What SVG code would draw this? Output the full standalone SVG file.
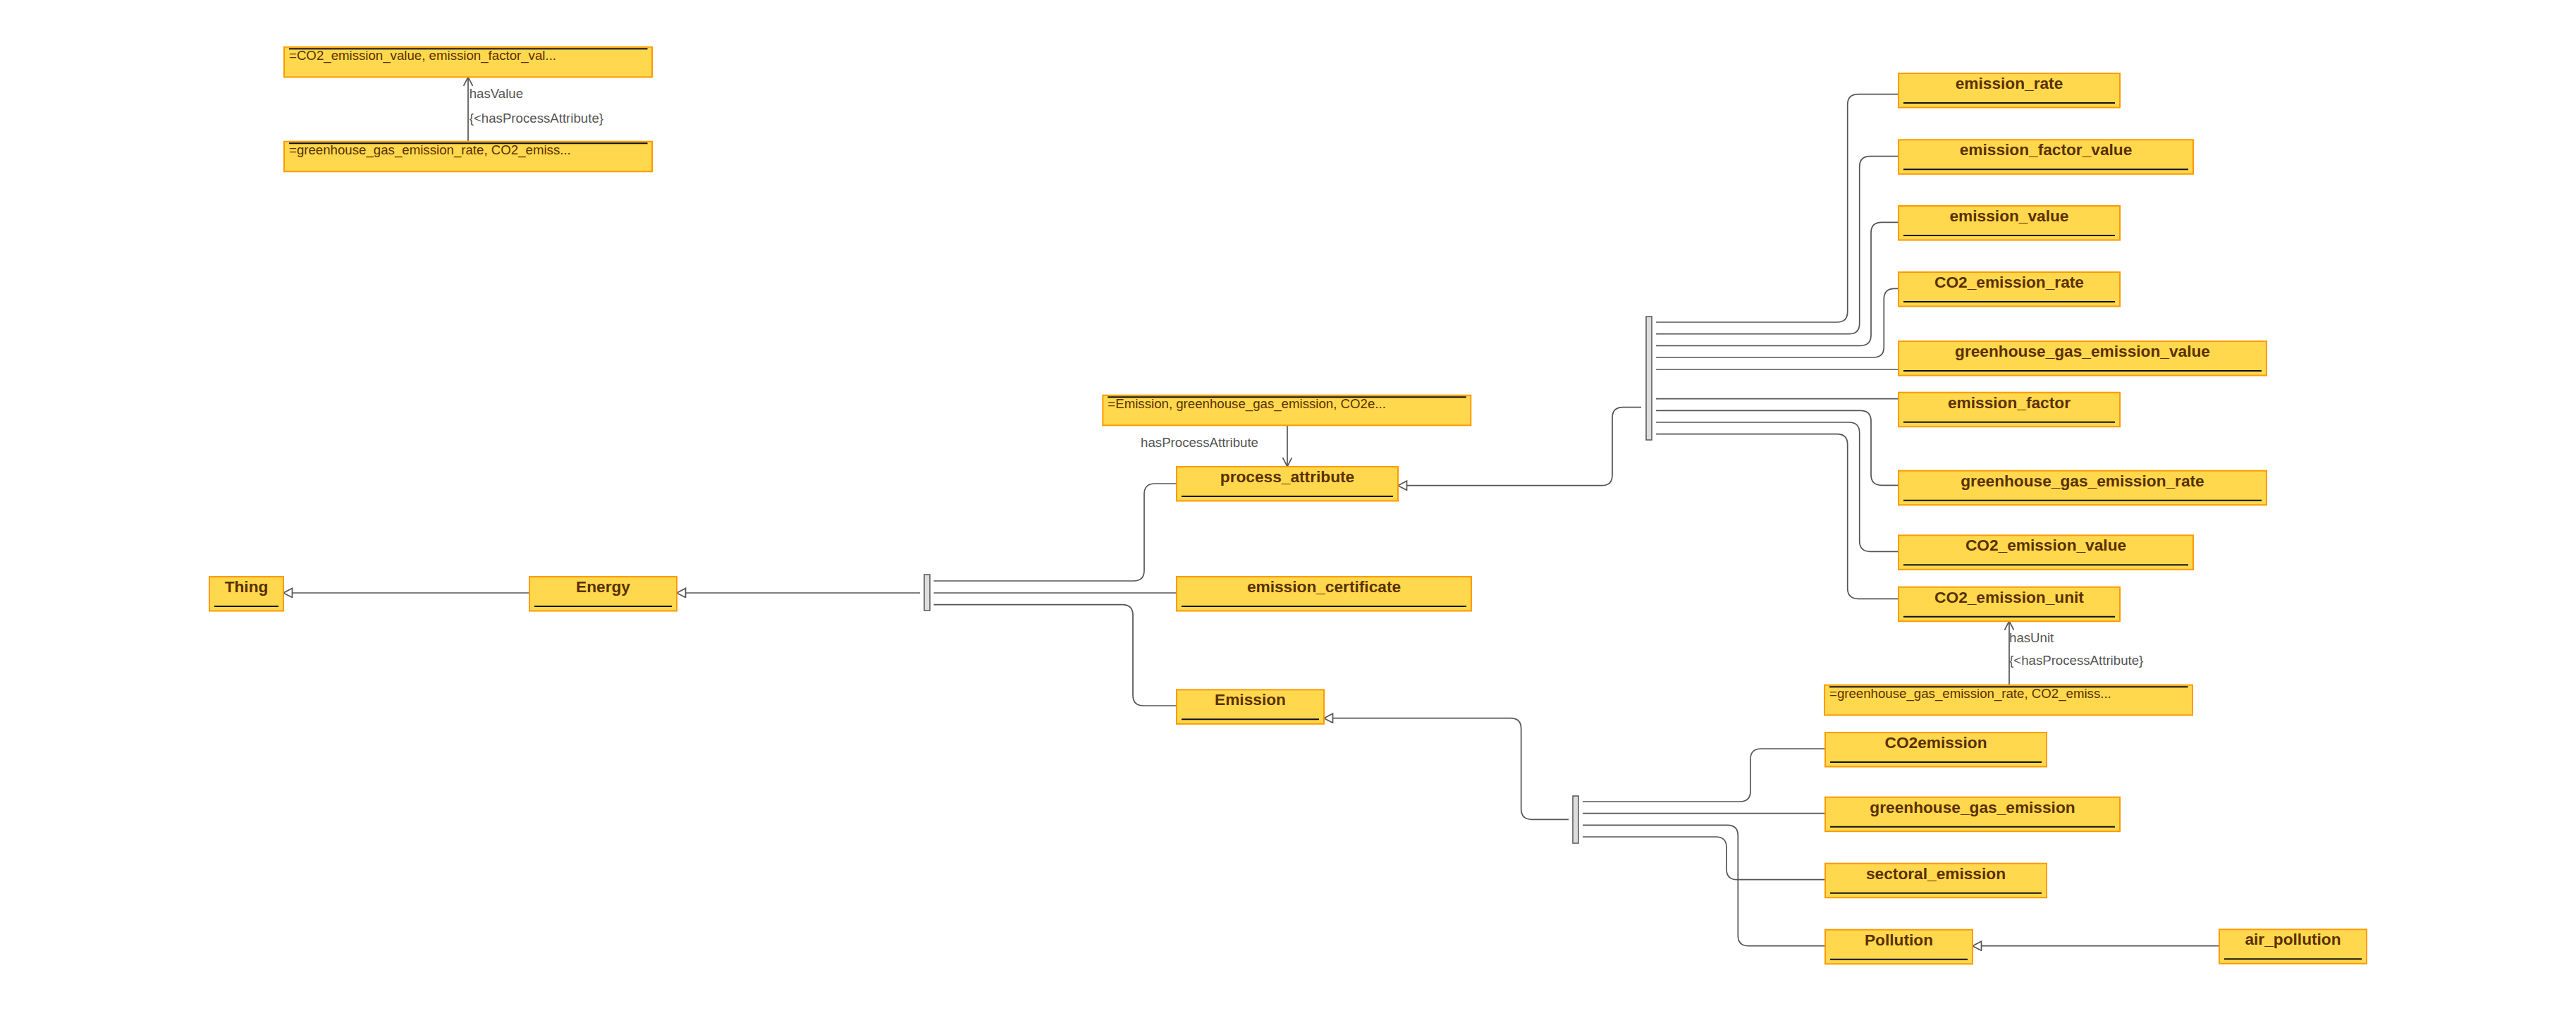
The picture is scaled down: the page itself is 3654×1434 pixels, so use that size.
<svg xmlns="http://www.w3.org/2000/svg" width="3654" height="1434" viewBox="0 0 3654 1434">
<style>
.box{fill:#ffd84d;stroke:#ff9a00;stroke-width:2}
.ul{stroke:#111;stroke-width:2}
.name{font-family:"Liberation Sans",Arial,sans-serif;font-weight:bold;font-size:22.7px;fill:#5a3000;text-anchor:middle}
.note{font-family:"Liberation Sans",Arial,sans-serif;font-size:18.67px;fill:#5a3000}
.lbl{font-family:"Liberation Sans",Arial,sans-serif;font-size:18.67px;fill:#555}
.c{fill:none;stroke:#555;stroke-width:1.7}
.bar{fill:#ddd;stroke:#555;stroke-width:1.5}
</style>
<defs>
<marker id="tri" markerUnits="userSpaceOnUse" markerWidth="16" markerHeight="16" refX="13.5" refY="7" orient="auto" viewBox="0 0 16 16">
<path d="M1,0.5 L13.5,7 L1,13.5 Z" fill="#fff" stroke="#555" stroke-width="1.7"/>
</marker>
<marker id="open" markerUnits="userSpaceOnUse" markerWidth="16" markerHeight="16" refX="13.5" refY="7" orient="auto" viewBox="0 0 16 16">
<path d="M1,0.5 L13.5,7 L1,13.5" fill="none" stroke="#555" stroke-width="1.7"/>
</marker>
</defs>
<rect width="3654" height="1434" fill="#fff"/>

<g id="connectors">
<path class="c" d="M751 841 H402" marker-end="url(#tri)"/>
<path class="c" d="M1305 841 H960" marker-end="url(#tri)"/>
<path class="c" d="M1324.5 824 H1608 Q1623 824 1623 809 V701 Q1623 686 1638 686 H1669"/>
<path class="c" d="M1324.5 841 H1669"/>
<path class="c" d="M1324.5 857.7 H1592 Q1607 857.7 1607 872.7 V986 Q1607 1001 1622 1001 H1669"/>
<path class="c" d="M1826 603.3 V661.7" marker-end="url(#open)"/>
<path class="c" d="M2328 577.7 H2302 Q2287 577.7 2287 592.7 V673.7 Q2287 688.7 2272 688.7 H1983" marker-end="url(#tri)"/>
<path class="c" d="M2349 457 H2605.7 Q2620.7 457 2620.7 442 V148.7 Q2620.7 133.7 2635.7 133.7 H2693"/>
<path class="c" d="M2349 473.7 H2622.7 Q2637.7 473.7 2637.7 458.7 V236.7 Q2637.7 221.7 2652.7 221.7 H2693"/>
<path class="c" d="M2349 490.3 H2639 Q2654 490.3 2654 475.3 V330.3 Q2654 315.3 2669 315.3 H2693"/>
<path class="c" d="M2349 507 H2657.3 Q2672.3 507 2672.3 492 V424.3 Q2672.3 409.3 2687.3 409.3 H2693"/>
<path class="c" d="M2349 524 H2693"/>
<path class="c" d="M2349 565.7 H2693"/>
<path class="c" d="M2349 582.3 H2639 Q2654 582.3 2654 597.3 V673.3 Q2654 688.3 2669 688.3 H2693"/>
<path class="c" d="M2349 599 H2622.7 Q2637.7 599 2637.7 614 V767.3 Q2637.7 782.3 2652.7 782.3 H2693"/>
<path class="c" d="M2349 615.7 H2605.7 Q2620.7 615.7 2620.7 630.7 V834.3 Q2620.7 849.3 2635.7 849.3 H2693"/>
<path class="c" d="M2225 1162.3 H2172.7 Q2157.7 1162.3 2157.7 1147.3 V1033.7 Q2157.7 1018.7 2142.7 1018.7 H1878" marker-end="url(#tri)"/>
<path class="c" d="M2245 1137 H2468 Q2483 1137 2483 1122 V1077 Q2483 1062 2498 1062 H2589"/>
<path class="c" d="M2245 1153.7 H2589"/>
<path class="c" d="M2245 1170.3 H2450.3 Q2465.3 1170.3 2465.3 1185.3 V1326.7 Q2465.3 1341.7 2480.3 1341.7 H2589"/>
<path class="c" d="M2245 1187 H2434 Q2449 1187 2449 1202 V1232.7 Q2449 1247.7 2464 1247.7 H2589"/>
<path class="c" d="M3148 1341.7 H2798" marker-end="url(#tri)"/>
<path class="c" d="M664 200.7 V109.3" marker-end="url(#open)"/>
<path class="c" d="M2850 971.7 V881" marker-end="url(#open)"/>
<rect class="bar" x="1311" y="815" width="8" height="51"/>
<rect class="bar" x="2335" y="449" width="8" height="175"/>
<rect class="bar" x="2231" y="1129" width="8" height="67"/>
<text class="lbl" x="665.7" y="139.3">hasValue</text>
<text class="lbl" x="665.7" y="174">{&lt;hasProcessAttribute}</text>
<text class="lbl" x="1785" y="634.3" text-anchor="end">hasProcessAttribute</text>
<text class="lbl" x="2850" y="910.7">hasUnit</text>
<text class="lbl" x="2850" y="943.3">{&lt;hasProcessAttribute}</text>
</g>

<g id="note1" transform="translate(403,66.7)"><rect class="box" width="522" height="42.6"/><line class="ul" x1="7" y1="2.5" x2="515.5" y2="2.5"/><text class="note" x="7" y="18.5">=CO2_emission_value, emission_factor_val...</text></g>
<g id="note2" transform="translate(403,200.7)"><rect class="box" width="522" height="42.6"/><line class="ul" x1="7" y1="2.5" x2="515.5" y2="2.5"/><text class="note" x="7" y="18.5">=greenhouse_gas_emission_rate, CO2_emiss...</text></g>
<g id="note3" transform="translate(1564.3,560.7)"><rect class="box" width="522" height="42.6"/><line class="ul" x1="7" y1="2.5" x2="515.5" y2="2.5"/><text class="note" x="7" y="18.5">=Emission, greenhouse_gas_emission, CO2e...</text></g>
<g id="note4" transform="translate(2588,971.7)"><rect class="box" width="522" height="42.6"/><line class="ul" x1="7" y1="2.5" x2="515.5" y2="2.5"/><text class="note" x="7" y="18.5">=greenhouse_gas_emission_rate, CO2_emiss...</text></g>

<g id="Thing" transform="translate(297,818)"><rect class="box" width="105" height="48.5"/><line class="ul" x1="7" y1="42" x2="98" y2="42"/><text class="name" x="52.5" y="22">Thing</text></g>
<g id="Energy" transform="translate(751,818)"><rect class="box" width="209" height="48.5"/><line class="ul" x1="7" y1="42" x2="202" y2="42"/><text class="name" x="104.5" y="22">Energy</text></g>
<g id="process_attribute" transform="translate(1669,662)"><rect class="box" width="314" height="48.5"/><line class="ul" x1="7" y1="42" x2="307" y2="42"/><text class="name" x="157" y="22">process_attribute</text></g>
<g id="emission_certificate" transform="translate(1669,818)"><rect class="box" width="418" height="48.5"/><line class="ul" x1="7" y1="42" x2="411" y2="42"/><text class="name" x="209" y="22">emission_certificate</text></g>
<g id="Emission" transform="translate(1669,978.3)"><rect class="box" width="209" height="48.5"/><line class="ul" x1="7" y1="42" x2="202" y2="42"/><text class="name" x="104.5" y="22">Emission</text></g>
<g id="emission_rate" transform="translate(2693,104)"><rect class="box" width="314" height="48.5"/><line class="ul" x1="7" y1="42" x2="307" y2="42"/><text class="name" x="157" y="22">emission_rate</text></g>
<g id="emission_factor_value" transform="translate(2693,198.3)"><rect class="box" width="418" height="48.5"/><line class="ul" x1="7" y1="42" x2="411" y2="42"/><text class="name" x="209" y="22">emission_factor_value</text></g>
<g id="emission_value" transform="translate(2693,292)"><rect class="box" width="314" height="48.5"/><line class="ul" x1="7" y1="42" x2="307" y2="42"/><text class="name" x="157" y="22">emission_value</text></g>
<g id="CO2_emission_rate" transform="translate(2693,386)"><rect class="box" width="314" height="48.5"/><line class="ul" x1="7" y1="42" x2="307" y2="42"/><text class="name" x="157" y="22">CO2_emission_rate</text></g>
<g id="greenhouse_gas_emission_value" transform="translate(2693,484)"><rect class="box" width="522" height="48.5"/><line class="ul" x1="7" y1="42" x2="515" y2="42"/><text class="name" x="261" y="22">greenhouse_gas_emission_value</text></g>
<g id="emission_factor" transform="translate(2693,556.7)"><rect class="box" width="314" height="48.5"/><line class="ul" x1="7" y1="42" x2="307" y2="42"/><text class="name" x="157" y="22">emission_factor</text></g>
<g id="greenhouse_gas_emission_rate" transform="translate(2693,667.7)"><rect class="box" width="522" height="48.5"/><line class="ul" x1="7" y1="42" x2="515" y2="42"/><text class="name" x="261" y="22">greenhouse_gas_emission_rate</text></g>
<g id="CO2_emission_value" transform="translate(2693,759.3)"><rect class="box" width="418" height="48.5"/><line class="ul" x1="7" y1="42" x2="411" y2="42"/><text class="name" x="209" y="22">CO2_emission_value</text></g>
<g id="CO2_emission_unit" transform="translate(2693,832.7)"><rect class="box" width="314" height="48.5"/><line class="ul" x1="7" y1="42" x2="307" y2="42"/><text class="name" x="157" y="22">CO2_emission_unit</text></g>
<g id="CO2emission" transform="translate(2589,1039)"><rect class="box" width="314" height="48.5"/><line class="ul" x1="7" y1="42" x2="307" y2="42"/><text class="name" x="157" y="22">CO2emission</text></g>
<g id="greenhouse_gas_emission" transform="translate(2589,1130.7)"><rect class="box" width="418" height="48.5"/><line class="ul" x1="7" y1="42" x2="411" y2="42"/><text class="name" x="209" y="22">greenhouse_gas_emission</text></g>
<g id="sectoral_emission" transform="translate(2589,1224.7)"><rect class="box" width="314" height="48.5"/><line class="ul" x1="7" y1="42" x2="307" y2="42"/><text class="name" x="157" y="22">sectoral_emission</text></g>
<g id="Pollution" transform="translate(2589,1318.7)"><rect class="box" width="209" height="48.5"/><line class="ul" x1="7" y1="42" x2="202" y2="42"/><text class="name" x="104.5" y="22">Pollution</text></g>
<g id="air_pollution" transform="translate(3148,1318.3)"><rect class="box" width="209" height="48.5"/><line class="ul" x1="7" y1="42" x2="202" y2="42"/><text class="name" x="104.5" y="22">air_pollution</text></g>
</svg>
